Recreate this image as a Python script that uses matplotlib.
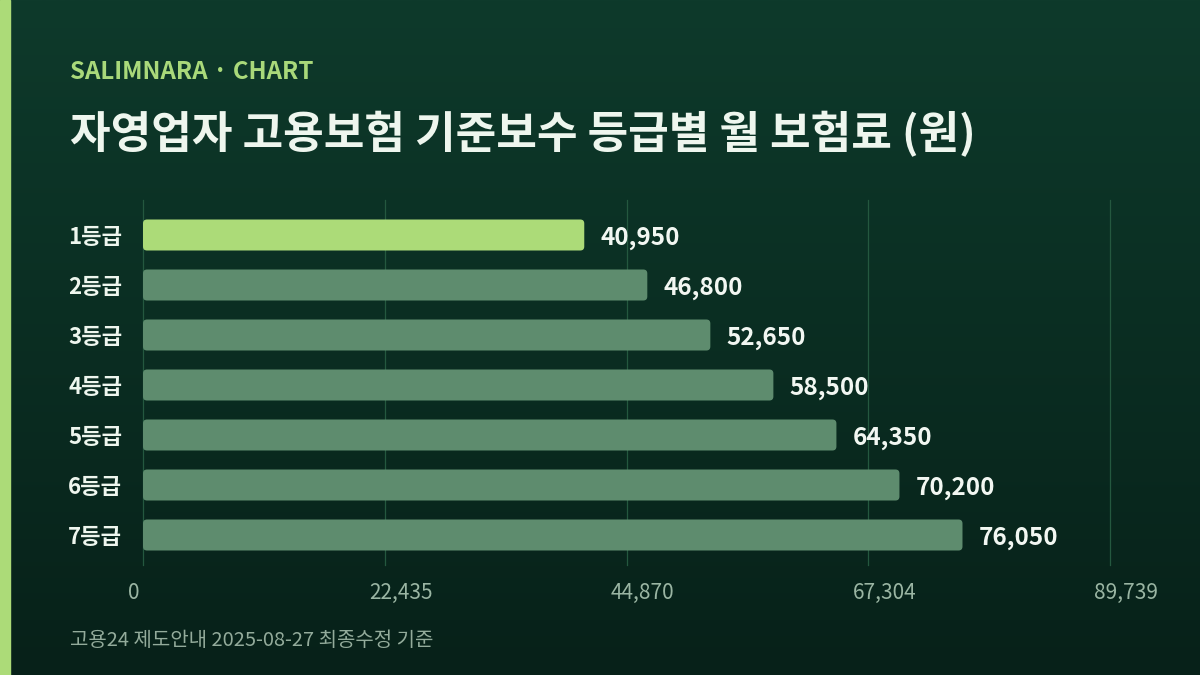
import numpy as np
import matplotlib.pyplot as plt
from matplotlib.patches import FancyBboxPatch, Rectangle
from matplotlib.transforms import ScaledTranslation

plt.rcParams['font.family'] = ['Noto Sans CJK KR', 'DejaVu Sans']

grades = ["1등급", "2등급", "3등급", "4등급", "5등급", "6등급", "7등급"]
premiums = [40950, 46800, 52650, 58500, 64350, 70200, 76050]
tick_values = [0, 22435, 44870, 67304, 89739]
tick_labels = ["0", "22,435", "44,870", "67,304", "89,739"]

W, H = 1200, 675
fig = plt.figure(figsize=(12, 6.75), dpi=100)

# background gradient
bg = fig.add_axes([0, 0, 1, 1], zorder=-10)
grad = np.linspace(0, 1, 256).reshape(-1, 1)
top = np.array([14, 58, 43]) / 255
bot = np.array([7, 33, 25]) / 255
img = top + (bot - top) * grad[..., None]
bg.imshow(img, aspect="auto", extent=[0, 1, 0, 1])
bg.axis("off")
fig.patches.append(Rectangle((0, 0), 10 / W, 1, transform=fig.transFigure,
                             color="#acdb78", zorder=5))

fig.text(70 / W, 1 - 72 / H, "SALIMNARA · CHART", color="#a9d97a",
         fontsize=17.3, fontweight="bold", va="center")
fig.text(70 / W, 1 - 134 / H, "자영업자 고용보험 기준보수 등급별 월 보험료 (원)",
         color="#eef6ee", fontsize=31.8, fontweight="bold", va="center")
fig.text(70 / W, 1 - 640 / H, "고용24 제도안내 2025-08-27 최종수정 기준",
         color="#93ab9b", fontsize=14.4, va="center")

ax = fig.add_axes([143 / W, 1 - 565 / H, (1110 - 143) / W, (565 - 200) / H])
ax.set_facecolor("none")
for s in ax.spines.values():
    s.set_visible(False)

y = np.arange(len(grades))
colors = ["#acdb78"] + ["#5e8c6e"] * (len(grades) - 1)
bars = ax.barh(y, premiums, height=0.62, color=colors, zorder=3)

ax.set_xlim(0, tick_values[-1])
ax.set_ylim(6.6, -0.7)

# rounded corners
xpp = tick_values[-1] / (1110 - 143)
ypp = 1 / 50
for b, c in zip(bars, colors):
    b.set_visible(False)
    fb = FancyBboxPatch((b.get_x(), b.get_y()), b.get_width(), b.get_height(),
                        boxstyle="round,pad=0,rounding_size=%f" % (4 * xpp),
                        mutation_aspect=ypp / xpp, color=c, zorder=3, lw=0)
    ax.add_patch(fb)

for yi, v in zip(y, premiums):
    ax.annotate(f"{v:,}", (v, yi), xytext=(11.5, -1.8), textcoords="offset points",
                va="center", ha="left", color="#f2f7f2", fontsize=17.5,
                fontweight="bold")

ax.set_xticks(tick_values)
ax.set_xticklabels(tick_labels)
ax.set_yticks(y)
ax.set_yticklabels(grades)
ax.tick_params(axis="x", length=0, pad=12, colors="#9ab5a3", labelsize=15)
ax.tick_params(axis="y", length=0, pad=15, colors="#eef6ee", labelsize=16)
for lab in ax.get_yticklabels():
    lab.set_fontweight("bold")
# x labels sit a little off their gridlines in the original
shifts = [-9] + [16] * (len(tick_labels) - 1)
for lab, dx in zip(ax.get_xticklabels(), shifts):
    lab.set_transform(lab.get_transform() + ScaledTranslation(dx / 100, 0, fig.dpi_scale_trans))
ax.grid(axis="x", color="#24583f", lw=0.9, zorder=0)
for gl in ax.get_xgridlines():
    gl.set_clip_on(False)
ax.set_axisbelow(True)

fig.savefig("out.png", dpi=100)
